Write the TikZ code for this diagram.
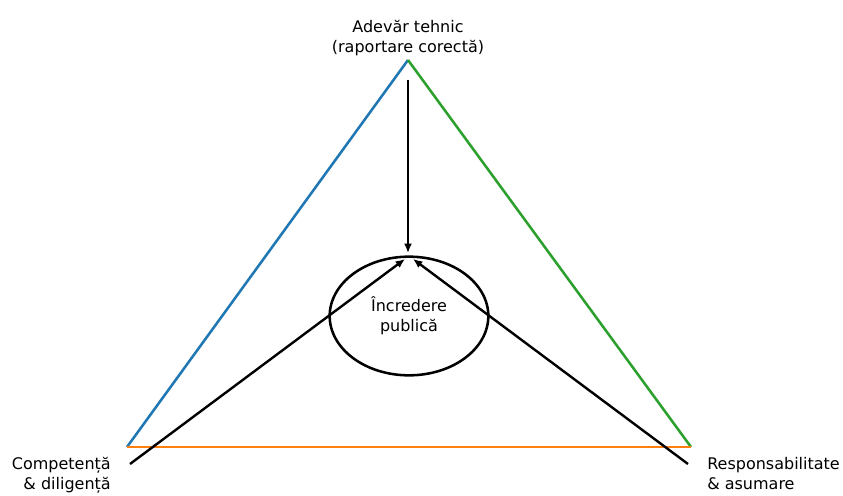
\documentclass[tikz,border=0pt]{standalone}
\usepackage{fontspec}
\setmainfont{DejaVu Sans}
\usetikzlibrary{arrows.meta,shapes.geometric}
\definecolor{tabblue}{HTML}{1F77B4}
\definecolor{taborange}{HTML}{FF7F0E}
\definecolor{tabgreen}{HTML}{2CA02C}
\tikzset{
  side/.style={line width=1.9pt},
  pointer/.style={line width=1.8pt,-{Latex[length=7pt,width=6pt]}},
  lbl/.style={font=\fontsize{12}{15}\selectfont,inner sep=0pt}
}
\begin{document}
\begin{tikzpicture}[x=0.75pt,y=-0.75pt]
\useasboundingbox (0,0) rectangle (843,496);

\coordinate (apex) at (408,60);
\coordinate (bl) at (127,447);
\coordinate (br) at (691,447);

\draw[side,tabblue] (bl)--(apex);
\draw[side,tabgreen] (apex)--(br);
\draw[side,taborange] (bl)--(br);

\node[draw,ellipse,line width=1.9pt,minimum width=119pt,minimum height=89pt,inner sep=0pt] (trust) at (409,316) {};
\node[lbl,align=center] (trusttxt) at (409,316) {Încredere\\publică};

\node[lbl,align=center,anchor=south] (truth) at (408,56) {Adevăr tehnic\\(raportare corectă)};
\node[lbl,align=right,anchor=north east] (comp) at (111,457) {Competență\\\& diligență};
\node[lbl,align=left,anchor=north west] (resp) at (707,457) {Responsabilitate\\\& asumare};

\coordinate (s1) at (408,80);
\coordinate (e1) at (408,253);
\coordinate (s2) at (130,464);
\coordinate (e2) at (405,259);
\coordinate (s3) at (688,464);
\coordinate (e3) at (413,259);

\draw[pointer] (s1)--(e1);
\draw[pointer] (s2)--(e2);
\draw[pointer] (s3)--(e3);

\end{tikzpicture}
\end{document}
